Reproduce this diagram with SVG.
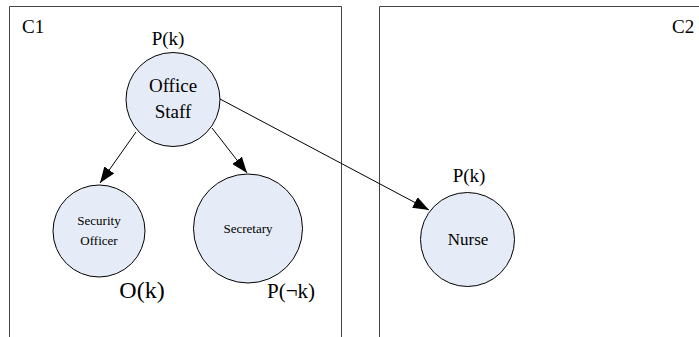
<svg xmlns="http://www.w3.org/2000/svg" width="699" height="337" viewBox="0 0 699 337">
<defs>
<marker id="ah" viewBox="0 0 16 12" refX="16" refY="6" markerWidth="16" markerHeight="12" markerUnits="userSpaceOnUse" orient="auto">
<path d="M0,0 L16,6 L0,12 Z" fill="#000"/>
</marker>
</defs>
<g font-family="Liberation Serif" fill="#000">
<g id="C1">
<path d="M9.5,337 V6.5 H341.5 V337" fill="none" stroke="#444"/>
<text x="22" y="33" font-size="19">C1</text>
</g>
<g id="C2">
<path d="M379.5,337 V6.5 H705" fill="none" stroke="#444"/>
<text x="672" y="33" font-size="19">C2</text>
</g>
<g id="connectors" stroke="#000" fill="none" marker-end="url(#ah)">
<line x1="136" y1="132" x2="100" y2="183"/>
<line x1="212" y1="128" x2="247" y2="173"/>
<line x1="220" y1="99" x2="429" y2="210"/>
</g>
<g id="office-staff" text-anchor="middle">
<circle cx="173" cy="99.5" r="47" fill="#e6ecf7" stroke="#000"/>
<text x="168" y="45" font-size="19">P(k)</text>
<text x="173" y="92" font-size="19">Office</text>
<text x="173" y="118" font-size="19">Staff</text>
</g>
<g id="security-officer" text-anchor="middle">
<circle cx="99" cy="231" r="46" fill="#e6ecf7" stroke="#000"/>
<text x="99" y="225" font-size="13">Security</text>
<text x="99" y="245" font-size="13">Officer</text>
<text x="142" y="298" font-size="24">O(k)</text>
</g>
<g id="secretary" text-anchor="middle">
<circle cx="248" cy="228.5" r="54.5" fill="#e6ecf7" stroke="#000"/>
<text x="248" y="233" font-size="13">Secretary</text>
<text x="291" y="298" font-size="21">P(¬k)</text>
</g>
<g id="nurse" text-anchor="middle">
<circle cx="467.5" cy="239.5" r="47" fill="#e6ecf7" stroke="#000"/>
<text x="469" y="182" font-size="19">P(k)</text>
<text x="468" y="245" font-size="17">Nurse</text>
</g>
</g>
</svg>
